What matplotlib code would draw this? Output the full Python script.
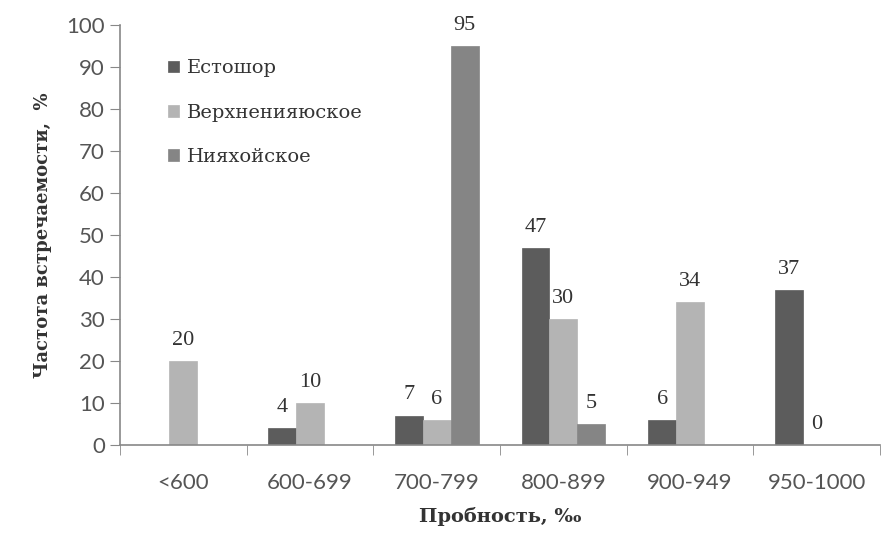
import numpy as np
import matplotlib.pyplot as plt

categories = ['<600', '600-699', '700-799', '800-899', '900-949', '950-1000']
names = ['Естошор', 'Верхненияюское', 'Нияхойское']
estoshor = [np.nan, 4, 7, 47, 6, 37]
verkhne = [20, 10, 6, 30, 34, 0]
niyakhoy = [np.nan, np.nan, 95, 5, np.nan, np.nan]
colors = ['#5c5c5c', '#b4b4b4', '#858585']

serif = ['DejaVu Serif']
sans = ['Lato', 'DejaVu Sans']

fig = plt.figure(figsize=(8.83, 5.46), dpi=100)
ax = fig.add_axes([0.136, 0.185, 0.8606, 0.769])

x = np.arange(len(categories))
width = 0.22
offsets = [-width, 0, width]
handles = []
for series, off, color, name in zip([estoshor, verkhne, niyakhoy], offsets, colors, names):
    vals = np.array(series, dtype=float)
    mask = ~np.isnan(vals)
    bars = ax.bar(x[mask] + off, vals[mask], width, color=color,
                  edgecolor=color, linewidth=0.5, label=name, zorder=2)
    handles.append(bars)
    for xi, v in zip(x[mask] + off, vals[mask]):
        ax.annotate('%d' % v, (xi, v), xytext=(0, 8), textcoords='offset points',
                    ha='center', va='bottom', fontsize=16, family=['Liberation Serif'],
                    color='#333333')

ax.set_xlim(-0.5, len(categories) - 0.5)
ax.set_ylim(0, 100)
ax.set_yticks(np.arange(0, 101, 10))
ax.set_xticks(x)
ax.set_xticklabels(categories)
ax.set_xticks(np.arange(-0.5, len(categories)), minor=True)
ax.tick_params(axis='x', which='major', length=0, pad=20, labelsize=16, labelcolor='#555555')
ax.tick_params(axis='x', which='minor', length=7, color='#888888', direction='out')
ax.tick_params(axis='y', length=7, color='#888888', labelsize=16, labelcolor='#555555', pad=4)
for lab in ax.get_xticklabels() + ax.get_yticklabels():
    lab.set_family(sans)

for side in ['top', 'right']:
    ax.spines[side].set_visible(False)
for side in ['left', 'bottom']:
    ax.spines[side].set_color('#888888')
    ax.spines[side].set_linewidth(1.2)

ax.set_xlabel('Пробность, ‰', fontsize=14, fontweight='bold', family=serif,
              color='#333333', labelpad=10)
ax.set_ylabel('Частота встречаемости,  %', fontsize=13, fontweight='bold', family=serif,
              color='#333333', labelpad=10)

leg = ax.legend(handles=handles, loc='upper left', bbox_to_anchor=(0.04, 0.96),
                frameon=False, handlelength=0.55, handleheight=0.55, handletextpad=0.4,
                labelspacing=1.35, prop={'family': serif, 'size': 14})
for t in leg.get_texts():
    t.set_color('#333333')

fig.savefig('out.png', dpi=100)
